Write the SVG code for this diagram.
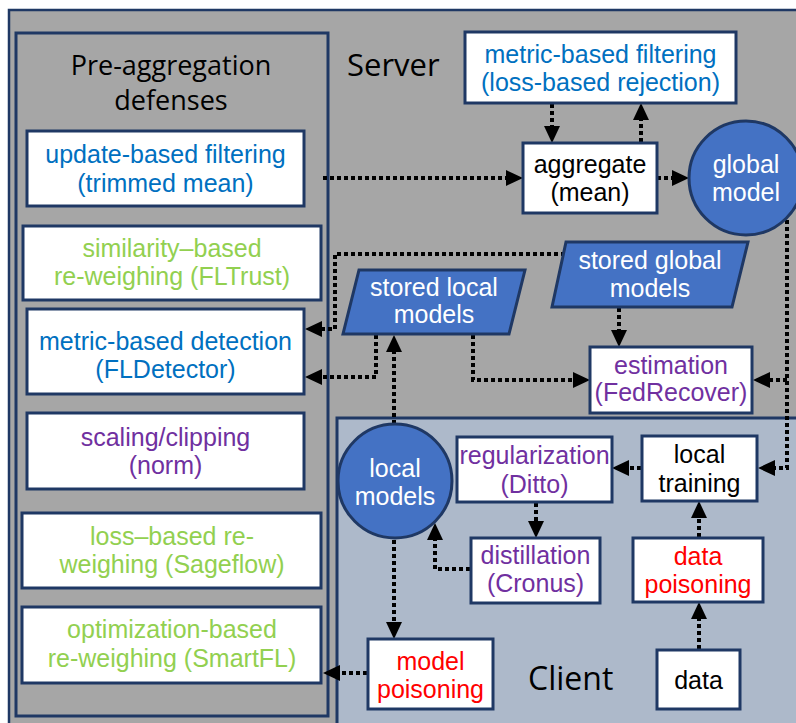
<svg xmlns="http://www.w3.org/2000/svg" width="796" height="723" viewBox="0 0 796 723">
<style>
.box{fill:#ffffff;stroke:#1f3864;stroke-width:3}
.blob{fill:#4472c4;stroke:#1f3864;stroke-width:3}
.t{font-family:"Liberation Sans",Arial,sans-serif;font-size:25px;text-anchor:middle}
.title{font-family:"Open Sans","DejaVu Sans",sans-serif;fill:#000}
.blue{fill:#0070c0}.green{fill:#92d050}.purple{fill:#7030a0}.red{fill:#ff0000}.black{fill:#000}.white{fill:#fff}
.c{fill:none;stroke:#000;stroke-width:4;stroke-dasharray:4 3}
</style>
<defs>
<marker id="ah" markerUnits="userSpaceOnUse" markerWidth="17" markerHeight="17" refX="0" refY="8" orient="auto" viewBox="0 0 17 16">
<path d="M0,0 L17,8 L0,16 z" fill="#000"/>
</marker>
</defs>
<rect width="796" height="723" fill="#ffffff"/>
<g id="server">
<rect x="9" y="10" width="800" height="730" fill="#a6a6a6" stroke="#1f3864" stroke-width="2.5"/>
<text class="title" x="347" y="76" font-size="31">Server</text>
</g>
<g id="pre-aggregation">
<rect x="16" y="33" width="312" height="683" fill="#a6a6a6" stroke="#1f3864" stroke-width="3"/>
<text class="title" x="171" y="75" font-size="27" text-anchor="middle">Pre-aggregation</text>
<text class="title" x="171" y="110" font-size="27" text-anchor="middle">defenses</text>
</g>
<g id="client">
<rect x="337" y="418" width="470" height="320" fill="#adb9ca" stroke="#1f3864" stroke-width="3"/>
<text class="title" x="528" y="690" font-size="32">Client</text>
</g>
<g id="connectors">
<path class="c" d="M323,178 H506" marker-end="url(#ah)"/>
<path class="c" d="M552,104 V126" marker-end="url(#ah)"/>
<path class="c" d="M641,142 V120" marker-end="url(#ah)"/>
<path class="c" d="M657,178 H672" marker-end="url(#ah)"/>
<path class="c" d="M787,220 V468 H775" marker-end="url(#ah)"/>
<path class="c" d="M787,380 H770" marker-end="url(#ah)"/>
<path class="c" d="M565,254 H335 V329 H322" marker-end="url(#ah)"/>
<path class="c" d="M376,335 V377 H322" marker-end="url(#ah)"/>
<path class="c" d="M394,424 V352" marker-end="url(#ah)"/>
<path class="c" d="M473,335 V380 H573" marker-end="url(#ah)"/>
<path class="c" d="M619,308 V330" marker-end="url(#ah)"/>
<path class="c" d="M641,468 H629" marker-end="url(#ah)"/>
<path class="c" d="M536,503 V521" marker-end="url(#ah)"/>
<path class="c" d="M470,569 H435 V540" marker-end="url(#ah)"/>
<path class="c" d="M699,537 V518" marker-end="url(#ah)"/>
<path class="c" d="M699,649 V619" marker-end="url(#ah)"/>
<path class="c" d="M394,540 V622" marker-end="url(#ah)"/>
<path class="c" d="M367,673 H340" marker-end="url(#ah)"/>
</g>
<g id="update-filtering">
<rect class="box" x="27" y="131" width="277" height="75"/>
<text class="t blue" x="165.5" y="163">update-based filtering</text>
<text class="t blue" x="165.5" y="192">(trimmed mean)</text>
</g>
<g id="similarity-reweighing">
<rect class="box" x="23" y="226" width="298" height="74"/>
<text class="t green" x="172" y="257">similarity–based</text>
<text class="t green" x="172" y="285">re-weighing (FLTrust)</text>
</g>
<g id="metric-detection">
<rect class="box" x="27" y="309" width="277" height="85"/>
<text class="t blue" x="165.5" y="350">metric-based detection</text>
<text class="t blue" x="165.5" y="378">(FLDetector)</text>
</g>
<g id="scaling-clipping">
<rect class="box" x="27" y="413" width="277" height="76"/>
<text class="t purple" x="165.5" y="446">scaling/clipping</text>
<text class="t purple" x="165.5" y="474">(norm)</text>
</g>
<g id="loss-reweighing">
<rect class="box" x="22" y="513" width="299" height="75"/>
<text class="t green" x="172" y="545">loss–based re-</text>
<text class="t green" x="172" y="573">weighing (Sageflow)</text>
</g>
<g id="optimization-reweighing">
<rect class="box" x="22" y="607" width="299" height="76"/>
<text class="t green" x="172" y="638">optimization-based</text>
<text class="t green" x="172" y="667">re-weighing (SmartFL)</text>
</g>
<g id="metric-filtering">
<rect class="box" x="465" y="32" width="271" height="71"/>
<text class="t blue" x="600.5" y="63">metric-based filtering</text>
<text class="t blue" x="600.5" y="91">(loss-based rejection)</text>
</g>
<g id="aggregate">
<rect class="box" x="523" y="143" width="134" height="70"/>
<text class="t black" x="590" y="173">aggregate</text>
<text class="t black" x="590" y="201">(mean)</text>
</g>
<g id="global-model">
<circle class="blob" cx="746" cy="178" r="57"/>
<text class="t white" x="746" y="173">global</text>
<text class="t white" x="746" y="201">model</text>
</g>
<g id="stored-global-models">
<polygon class="blob" points="566,242 748,242 732,307 552,307"/>
<text class="t white" x="650" y="269">stored global</text>
<text class="t white" x="650" y="297">models</text>
</g>
<g id="stored-local-models">
<polygon class="blob" points="359,270 525,270 509,334 343,334"/>
<text class="t white" x="434" y="296">stored local</text>
<text class="t white" x="434" y="323">models</text>
</g>
<g id="estimation">
<rect class="box" x="590" y="347" width="162" height="66"/>
<text class="t purple" x="671" y="374">estimation</text>
<text class="t purple" x="671" y="401">(FedRecover)</text>
</g>
<g id="local-models">
<circle class="blob" cx="395" cy="481" r="57"/>
<text class="t white" x="395" y="477">local</text>
<text class="t white" x="395" y="505">models</text>
</g>
<g id="regularization">
<rect class="box" x="457" y="437" width="155" height="65"/>
<text class="t purple" x="534.5" y="464">regularization</text>
<text class="t purple" x="534.5" y="493">(Ditto)</text>
</g>
<g id="local-training">
<rect class="box" x="642" y="436" width="115" height="65"/>
<text class="t black" x="699.5" y="463">local</text>
<text class="t black" x="699.5" y="492">training</text>
</g>
<g id="distillation">
<rect class="box" x="471" y="538" width="129" height="65"/>
<text class="t purple" x="535.5" y="564">distillation</text>
<text class="t purple" x="535.5" y="592">(Cronus)</text>
</g>
<g id="data-poisoning">
<rect class="box" x="633" y="538" width="130" height="64"/>
<text class="t red" x="698" y="565">data</text>
<text class="t red" x="698" y="593">poisoning</text>
</g>
<g id="data">
<rect class="box" x="657" y="650" width="83" height="59"/>
<text class="t black" x="698.5" y="689">data</text>
</g>
<g id="model-poisoning">
<rect class="box" x="368" y="639" width="125" height="70"/>
<text class="t red" x="430.5" y="670">model</text>
<text class="t red" x="430.5" y="698">poisoning</text>
</g>
</svg>
